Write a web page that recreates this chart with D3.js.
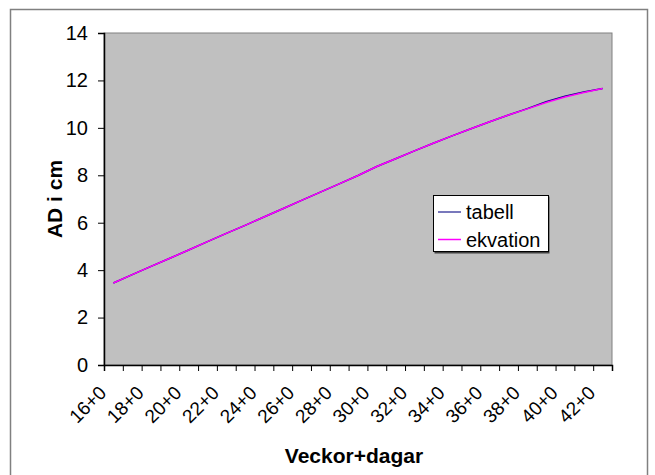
<!DOCTYPE html>
<html>
<head>
<meta charset="utf-8">
<script src="https://cdn.jsdelivr.net/npm/d3@7"></script>
<style>
  html, body { margin: 0; padding: 0; background: #fff; }
  svg { display: block; }
  text { font-family: "Liberation Sans", Arial, sans-serif; fill: #000; }
</style>
</head>
<body>
<svg id="chart" width="655" height="475"></svg>
<script>
// ---- data ----
const weeks = [16,17,18,19,20,21,22,23,24,25,26,27,28,29,30,31,32,33,34,35,36,37,38,39,40,41,42];
const categories = weeks.map(w => w + "+0");
const tabell   = [3.46,3.81,4.16,4.50,4.85,5.20,5.55,5.89,6.24,6.59,6.94,7.29,7.64,7.99,8.37,8.70,9.03,9.35,9.66,9.96,10.26,10.54,10.81,11.10,11.33,11.51,11.66];
const ekvation = [3.46,3.81,4.16,4.50,4.85,5.20,5.55,5.89,6.24,6.59,6.94,7.29,7.64,7.99,8.37,8.70,9.03,9.35,9.66,9.96,10.26,10.54,10.80,11.07,11.30,11.49,11.66];
const yTicks = [0,2,4,6,8,10,12,14];
const tickLabelCats = categories.filter((c, i) => i % 2 === 0);
const seriesNames = ["tabell", "ekvation"];
const seriesColors = ["#000080", "#FF00FF"];

// ---- layout ----
const svg = d3.select("#chart");
const pLeft = 104, pRight = 612, pTop = 33, pBottom = 365;

// outer frame
svg.append("rect")
  .attr("x", 10.5).attr("y", 9.5)
  .attr("width", 637).attr("height", 480)
  .attr("fill", "none").attr("stroke", "#808080").attr("stroke-width", 1.5);

const x = d3.scaleBand().domain(categories).range([pLeft, pRight]).padding(0);
const y = d3.scaleLinear().domain([0, 14]).range([pBottom, pTop]);

// plot area
svg.append("rect")
  .attr("x", pLeft).attr("y", pTop)
  .attr("width", pRight - pLeft).attr("height", pBottom - pTop)
  .attr("fill", "#C0C0C0").attr("stroke", "#808080").attr("stroke-width", 1);

// y axis
const yAxis = svg.append("g")
  .attr("transform", `translate(${pLeft},0)`)
  .call(d3.axisLeft(y).tickValues(yTicks).tickSize(6).tickPadding(10).tickFormat(d3.format("d")));
yAxis.select(".domain").attr("stroke", "#000").attr("stroke-width", 1.5);
yAxis.selectAll(".tick line").attr("stroke", "#000");
yAxis.selectAll(".tick text").style("font-size", "20px").style("font-family", "Liberation Sans, Arial, sans-serif");

// x axis: tick marks at category boundaries
const xEdge = d3.scaleLinear().domain([0, categories.length]).range([pLeft, pRight]);
const xTickAxis = svg.append("g")
  .attr("transform", `translate(0,${pBottom})`)
  .call(d3.axisBottom(xEdge).tickValues(d3.range(0, categories.length + 1)).tickSize(6).tickFormat(""));
xTickAxis.select(".domain").attr("stroke", "#000").attr("stroke-width", 1.5);
xTickAxis.selectAll(".tick line").attr("stroke", "#000");

// x axis labels (every other category), rotated
const xLab = svg.append("g")
  .attr("transform", `translate(0,${pBottom})`)
  .call(d3.axisBottom(x).tickValues(tickLabelCats).tickSize(0).tickPadding(0));
xLab.select(".domain").remove();
xLab.selectAll(".tick text")
  .style("font-size", "19px")
  .style("font-family", "Liberation Sans, Arial, sans-serif")
  .attr("text-anchor", "end")
  .attr("dy", "0")
  .attr("transform", "translate(-6,29) rotate(-45)");

// lines
const line = d3.line()
  .x((d, i) => x(categories[i]) + x.bandwidth() / 2)
  .y(d => y(d));
[tabell, ekvation].forEach((s, k) => {
  svg.append("path")
    .datum(s)
    .attr("d", line)
    .attr("fill", "none")
    .attr("stroke", seriesColors[k])
    .attr("stroke-width", 1.5);
});

// axis titles
svg.append("text")
  .attr("x", 354).attr("y", 463)
  .attr("text-anchor", "middle")
  .style("font-size", "21px").style("font-weight", "bold")
  .text("Veckor+dagar");
svg.append("text")
  .attr("transform", `translate(62,${(pTop + pBottom) / 2}) rotate(-90)`)
  .attr("text-anchor", "middle")
  .style("font-size", "21px").style("font-weight", "bold")
  .text("AD i cm");

// legend
const lg = svg.append("g").attr("transform", "translate(433,195)");
lg.append("rect").attr("x", 1.5).attr("y", 1.5).attr("width", 115).attr("height", 57).attr("fill", "#404040");
lg.append("rect").attr("x", 0.5).attr("y", 0.5).attr("width", 115).attr("height", 56)
  .attr("fill", "#fff").attr("stroke", "#000").attr("stroke-width", 1);
seriesNames.forEach((n, i) => {
  const yy = 17 + i * 27.5;
  lg.append("line").attr("x1", 5).attr("x2", 28).attr("y1", yy).attr("y2", yy)
    .attr("stroke", seriesColors[i]).attr("stroke-width", 1.5).attr("opacity", i === 0 ? 0.7 : 1);
  lg.append("text").attr("x", 33).attr("y", yy + 7)
    .style("font-size", "20px").text(n);
});
</script>
</body>
</html>
